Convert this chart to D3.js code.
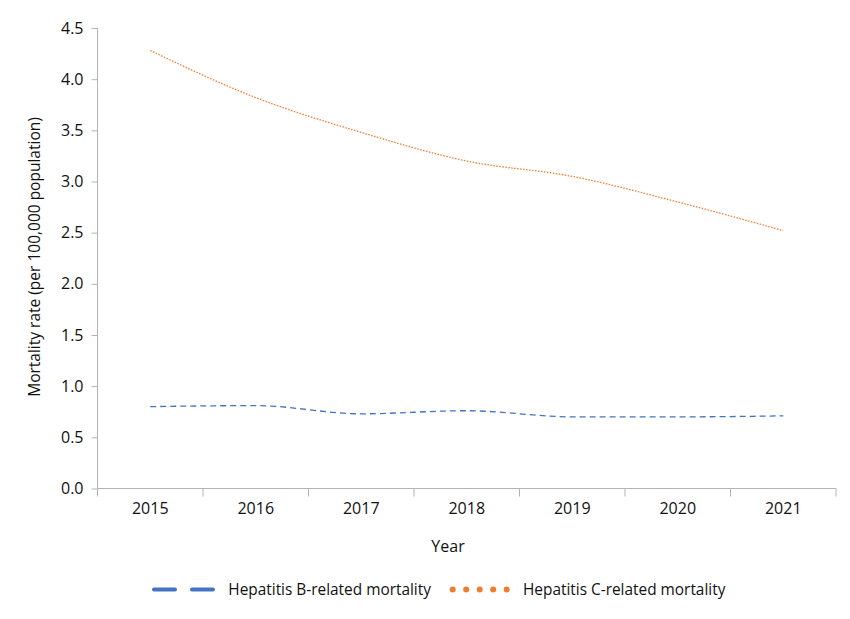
<!DOCTYPE html>
<html><head><meta charset="utf-8">
<script src="https://cdn.jsdelivr.net/npm/d3@7"></script>
<style>body{margin:0;background:#fff;} text{font-family:"Open Sans","Noto Sans",sans-serif;fill:#111;}</style>
</head><body><svg id="c" width="850" height="619"></svg>
<script>
const years = ["2015","2016","2017","2018","2019","2020","2021"];
const hepB = [0.80, 0.81, 0.73, 0.76, 0.70, 0.70, 0.71];
const hepC = [4.28, 3.82, 3.48, 3.20, 3.05, 2.80, 2.52];
const yTicks = [0,0.5,1,1.5,2,2.5,3,3.5,4,4.5];
const seriesNames = ["Hepatitis B-related mortality","Hepatitis C-related mortality"];

const svg = d3.select("#c");
const m = {l:97.5, r:836, t:28, b:488.5};
const x = d3.scaleBand().domain(years).range([m.l, m.r]);
const y = d3.scaleLinear().domain([0,4.5]).range([m.b, m.t]);
const axisCol = "#b3b3b3";

const ya = svg.append("g").attr("transform",`translate(${m.l},0)`)
  .call(d3.axisLeft(y).tickValues(yTicks).tickFormat(d3.format(".1f")).tickSize(6).tickPadding(8));
ya.selectAll("path,line").attr("stroke",axisCol);
ya.selectAll("text").style("font-size","16px");
ya.select(".domain").attr("d",`M0,${m.t}V${m.b}`);

const xa = svg.append("g").attr("transform",`translate(0,${m.b})`)
  .call(d3.axisBottom(x).tickSize(0).tickPadding(14));
xa.selectAll("path").attr("stroke",axisCol).attr("d",`M${m.l},0H${m.r}`);
xa.selectAll("text").style("font-size","16px");
const bounds = years.map(d=>x(d)).concat([x(years[years.length-1])+x.bandwidth()]);
xa.selectAll(".bt").data(bounds).enter().append("line").attr("class","bt")
  .attr("x1",d=>d).attr("x2",d=>d).attr("y1",0).attr("y2",8).attr("stroke",axisCol);

const line = d3.line().x((d,i)=>x(years[i])+x.bandwidth()/2).y(d=>y(d)).curve(d3.curveMonotoneX);
svg.append("path").datum(hepB).attr("d",line).attr("fill","none").attr("stroke","#4472c4")
  .attr("stroke-width",1.3).attr("stroke-dasharray","6,4");
svg.append("path").datum(hepC).attr("d",line).attr("fill","none").attr("stroke","#ed7d31")
  .attr("stroke-width",1.3).attr("stroke-dasharray","1.5,1.5");

svg.append("text").attr("transform","translate(40,257) rotate(-90)").attr("text-anchor","middle")
  .style("font-size","15.5px").text("Mortality rate (per 100,000 population)");
svg.append("text").attr("x",448).attr("y",552).attr("text-anchor","middle").style("font-size","16px").text("Year");

// legend
const lg = svg.append("g");
lg.append("line").attr("x1",154).attr("x2",213.3).attr("y1",589.5).attr("y2",589.5).attr("stroke","#4472c4")
  .attr("stroke-width",4).attr("stroke-linecap","round").attr("stroke-dasharray","21,17");
lg.append("text").attr("x",228.3).attr("y",595).style("font-size","15.4px").text(seriesNames[0]);
lg.selectAll(".dot").data(d3.range(5)).enter().append("circle")
  .attr("cx",d=>452.7+d*13.5).attr("cy",589.5).attr("r",3).attr("fill","#ed7d31");
lg.append("text").attr("x",523).attr("y",595).style("font-size","15.4px").text(seriesNames[1]);
</script></body></html>
